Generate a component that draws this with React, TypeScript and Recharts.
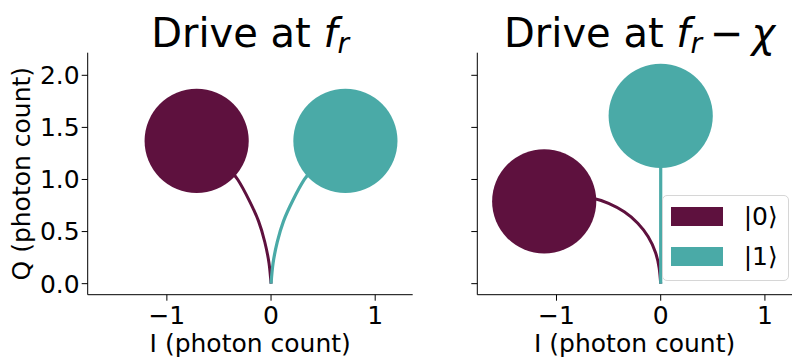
import React from "react";
import { ComposedChart, XAxis, YAxis, Line, Scatter, Legend } from "recharts";

// Axis ticks
const I_TICKS = [-1, 0, 1];
const Q_TICKS = [0, 0.5, 1, 1.5, 2];

const COLOR_0 = "#5E113E";
const COLOR_1 = "#4AAAA7";
const STATE_LABELS = ["|0⟩", "|1⟩"];

// Pointer-state radius in photon-count units
const SPOT_RADIUS = 0.5;

// Drive at f_r : steady states and resonator trajectories (I, Q)
const resonantState0 = [{ i: -0.714, q: 1.371 }];
const resonantState1 = [{ i: 0.714, q: 1.371 }];
const resonantPath0 = [
  { i: 0, q: 0 },
  { i: -0.02, q: 0.2 },
  { i: -0.06, q: 0.4 },
  { i: -0.12, q: 0.6 },
  { i: -0.21, q: 0.8 },
  { i: -0.32, q: 1.0 },
  { i: -0.46, q: 1.16 },
  { i: -0.714, q: 1.371 },
];
const resonantPath1 = [
  { i: 0, q: 0 },
  { i: 0.02, q: 0.2 },
  { i: 0.06, q: 0.4 },
  { i: 0.12, q: 0.6 },
  { i: 0.21, q: 0.8 },
  { i: 0.32, q: 1.0 },
  { i: 0.46, q: 1.16 },
  { i: 0.714, q: 1.371 },
];

// Drive at f_r - chi
const detunedState0 = [{ i: -1.118, q: 0.79 }];
const detunedState1 = [{ i: 0, q: 1.611 }];
const detunedPath0 = [
  { i: 0, q: 0 },
  { i: -0.015, q: 0.15 },
  { i: -0.05, q: 0.3 },
  { i: -0.12, q: 0.45 },
  { i: -0.22, q: 0.58 },
  { i: -0.35, q: 0.69 },
  { i: -0.5, q: 0.77 },
  { i: -0.65, q: 0.82 },
  { i: -0.85, q: 0.83 },
  { i: -1.118, q: 0.79 },
];
const detunedPath1 = [
  { i: 0, q: 0 },
  { i: 0, q: 1.611 },
];

const Y_DOMAIN = [-0.106, 2.217];
const FONT = "DejaVu Sans";
const TICK_FONT = 25;

const fmtI = (v: number) => String(v).replace("-", "\u2212");
const fmtQ = (v: number) => v.toFixed(1);

const spot = (color: string, r: number) => (p: any) =>
  <circle cx={p.cx} cy={p.cy} r={r} fill={color} />;

type PanelProps = {
  width: number;
  yAxisWidth: number;
  marginRight: number;
  xDomain: number[];
  path0: { i: number; q: number }[];
  path1: { i: number; q: number }[];
  state0: { i: number; q: number }[];
  state1: { i: number; q: number }[];
  showQLabels: boolean;
  legend?: boolean;
};

const HEIGHT = 360;
const TOP = 52.7;
const X_AXIS_H = 65.3;

function Panel(props: PanelProps) {
  const { width, yAxisWidth, marginRight, xDomain } = props;
  const plotW = width - yAxisWidth - marginRight;
  const rPx = (plotW / (xDomain[1] - xDomain[0])) * SPOT_RADIUS;
  const tickStyle = { fill: "#000", fontSize: TICK_FONT, fontFamily: FONT };

  return (
    <ComposedChart
      width={width}
      height={HEIGHT}
      margin={{ top: TOP, right: marginRight, left: 0, bottom: 0 }}
    >
      <XAxis
        dataKey="i"
        type="number"
        domain={xDomain}
        allowDataOverflow
        ticks={I_TICKS}
        tickFormatter={fmtI}
        height={X_AXIS_H}
        tickSize={6}
        tickMargin={6}
        stroke="#000"
        tick={tickStyle}
        label={{
          value: "I (photon count)",
          position: "insideBottom",
          offset: 8,
          fill: "#000",
          fontSize: 25,
          fontFamily: FONT,
        }}
      />
      <YAxis
        dataKey="q"
        type="number"
        domain={Y_DOMAIN}
        allowDataOverflow
        ticks={Q_TICKS}
        tickFormatter={props.showQLabels ? fmtQ : () => ""}
        width={yAxisWidth}
        tickSize={6}
        tickMargin={2}
        stroke="#000"
        tick={tickStyle}
        label={
          props.showQLabels
            ? {
                value: "Q (photon count)",
                angle: -90,
                position: "insideLeft",
                offset: 21,
                fill: "#000",
                fontSize: 25,
                fontFamily: FONT,
                style: { textAnchor: "middle" },
              }
            : undefined
        }
      />
      <Line data={props.path0} dataKey="q" type="natural" stroke={COLOR_0} strokeWidth={3} dot={false} isAnimationActive={false} />
      <Line data={props.path1} dataKey="q" type="natural" stroke={COLOR_1} strokeWidth={3.2} dot={false} isAnimationActive={false} />
      <Scatter data={props.state0} dataKey="q" shape={spot(COLOR_0, rPx)} isAnimationActive={false} />
      <Scatter data={props.state1} dataKey="q" shape={spot(COLOR_1, rPx)} isAnimationActive={false} />
      {props.legend && (
        <Legend
          layout="vertical"
          align="center"
          verticalAlign="middle"
          wrapperStyle={{ left: 241.7, top: 195, width: 127, height: 86 }}
          content={() => <StateLegend />}
        />
      )}
    </ComposedChart>
  );
}

function StateLegend() {
  const colors = [COLOR_0, COLOR_1];
  return (
    <div
      style={{
        position: "relative",
        width: 127,
        height: 86,
        boxSizing: "border-box",
        border: "1px solid #d6d6d6",
        borderRadius: 5,
        background: "rgba(255,255,255,0.8)",
        fontFamily: FONT,
      }}
    >
      {STATE_LABELS.map((lab, k) => (
        <React.Fragment key={lab}>
          <div
            style={{
              position: "absolute",
              left: 8,
              top: 10.7 + k * 40,
              width: 52.6,
              height: 19,
              background: colors[k],
            }}
          />
          <div
            style={{
              position: "absolute",
              left: 81,
              top: 3 + k * 40,
              fontSize: 25,
              lineHeight: "35px",
              color: "#000",
            }}
          >
            {lab}
          </div>
        </React.Fragment>
      ))}
    </div>
  );
}

const titleStyle = (center: number): React.CSSProperties => ({
  position: "absolute",
  left: center - 200,
  width: 400,
  top: 13,
  textAlign: "center",
  fontSize: 40,
  lineHeight: "40px",
  fontFamily: FONT,
  color: "#000",
  whiteSpace: "nowrap",
});

const sub: React.CSSProperties = { fontSize: "0.7em", fontStyle: "italic", position: "relative", top: "0.22em" };

export default function App() {
  return (
    <div
      style={{
        position: "absolute",
        left: 0,
        top: 0,
        width: 792,
        height: 360,
        overflow: "hidden",
        background: "#fff",
      }}
    >
      <div style={titleStyle(250.2)}>
        Drive at <i>f</i>
        <span style={sub}>r</span>
      </div>
      <div style={titleStyle(639.6)}>
        Drive at <i>f</i>
        <span style={sub}>r</span>
        <span style={{ margin: "0 0.2em" }}>{"\u2212"}</span>
        <i>χ</i>
      </div>
      <div style={{ position: "absolute", left: 0, top: 0 }}>
        <Panel
          width={420}
          yAxisWidth={87.7}
          marginRight={7.3}
          xDomain={[-1.76, 1.36]}
          path0={resonantPath0}
          path1={resonantPath1}
          state0={resonantState0}
          state1={resonantState1}
          showQLabels
        />
      </div>
      <div style={{ position: "absolute", left: 420, top: 0 }}>
        <Panel
          width={372}
          yAxisWidth={57.3}
          marginRight={0}
          xDomain={[-1.76, 1.26]}
          path0={detunedPath0}
          path1={detunedPath1}
          state0={detunedState0}
          state1={detunedState1}
          showQLabels={false}
          legend
        />
      </div>
    </div>
  );
}
